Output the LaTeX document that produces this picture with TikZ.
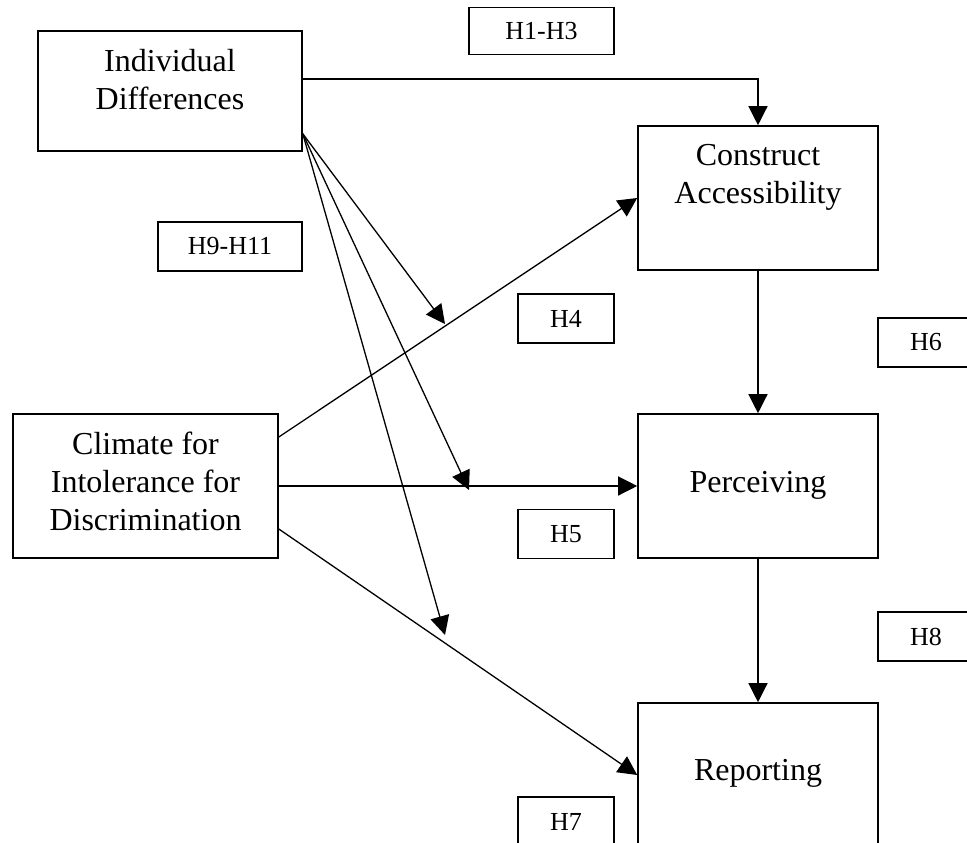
\documentclass[tikz,border=0pt]{standalone}
\usepackage{fontspec}
\setmainfont{Liberation Serif}
\usetikzlibrary{arrows.meta}

\tikzset{
  varbox/.style={draw, line width=1.6pt, inner sep=0pt},
  boxtext/.style={align=center, inner sep=0pt, font=\fontsize{32}{38}\selectfont},
  hyp/.style={draw, line width=1.6pt, inner sep=0pt, minimum width=96pt, minimum height=49pt, font=\fontsize{26}{30}\selectfont},
  link/.style={line width=1.3pt, -{Triangle[length=19pt,width=19pt]}}
}

\begin{document}
\begin{tikzpicture}[x=1pt,y=-1pt]
				\useasboundingbox (0,0) rectangle (967,843);
				\clip (0,0) rectangle (967,843);

				\node[varbox, minimum width=264pt, minimum height=120pt] (ind) at (170,91) {};
				\node[boxtext, anchor=north] (ind-t) at (170,49) {Individual\\Differences};

				\node[varbox, minimum width=240pt, minimum height=144pt] (cons) at (758,198) {};
				\node[boxtext, anchor=north] (cons-t) at (758,144) {Construct\\Accessibility};

				\node[varbox, minimum width=265pt, minimum height=144pt] (clim) at (145.5,486) {};
				\node[boxtext, anchor=north] (clim-t) at (145.5,432) {Climate for\\Intolerance for\\Discrimination};

				\node[varbox, minimum width=240pt, minimum height=144pt] (perc) at (758,486) {};
				\node[boxtext, anchor=base] (perc-t) at (758,492) {Perceiving};

				\node[varbox, minimum width=240pt, minimum height=144pt] (rep) at (758,775) {};
				\node[boxtext, anchor=base] (rep-t) at (758,780) {Reporting};

				\node[hyp, minimum width=145pt, minimum height=47pt] (h13) at (541.5,31) {H1-H3};
				\node[hyp, minimum width=144pt] (h911) at (230,246.5) {H9-H11};
				\node[hyp] (h4) at (566,318.5) {H4};
				\node[hyp] (h5) at (566,534) {H5};
				\node[hyp] (h7) at (566,821.5) {H7};
				\node[hyp] (h6) at (926,342.5) {H6};
				\node[hyp] (h8) at (926,636.5) {H8};

				\coordinate (fan) at ([yshift=18pt]ind.south east);
				\coordinate (m4) at (445,324);
				\coordinate (m5) at (469,490);
				\coordinate (m7) at (445,635);

				\draw[link] ([yshift=12pt]ind.east) -| (cons.north);
				\foreach \m in {m4,m5,m7} {
					\draw[link] (fan) -- (\m);
				}
				\draw[link] ([yshift=49pt]clim.east) -- (cons.west);
				\draw[link] (clim.east) -- (perc.west);
				\draw[link] ([yshift=-43pt]clim.east) -- (rep.west);
				\draw[link] (cons.south) -- (perc.north);
				\draw[link] (perc.south) -- (rep.north);
			\end{tikzpicture}
\end{document}
